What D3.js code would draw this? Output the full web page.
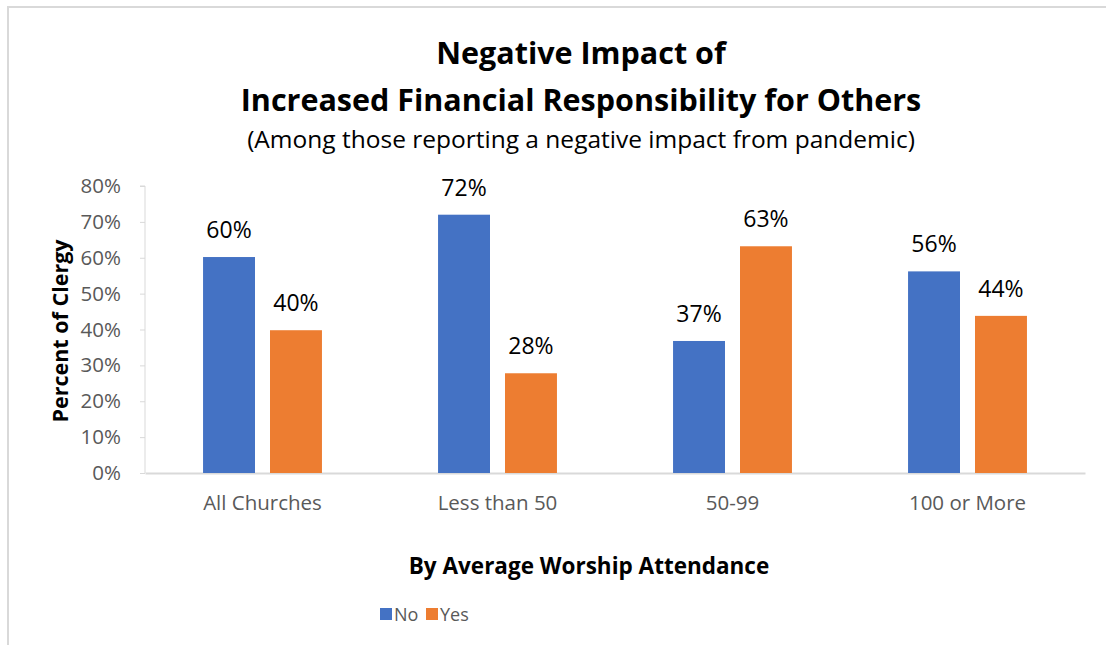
<!DOCTYPE html>
<html>
<head>
<meta charset="utf-8">
<script src="https://cdn.jsdelivr.net/npm/d3@7"></script>
<style>
  html, body { margin: 0; padding: 0; background: #fff; }
  svg { display: block; font-family: "Open Sans", sans-serif; }
</style>
</head>
<body>
<svg id="chart" width="1106" height="645"></svg>
<script>
const categories = ["All Churches", "Less than 50", "50-99", "100 or More"];
const seriesNames = ["No", "Yes"];
const noValues = [60.2, 72.0, 36.8, 56.2];
const yesValues = [39.8, 27.8, 63.2, 43.8];
const yTicks = [0, 10, 20, 30, 40, 50, 60, 70, 80];
const colors = ["#4472C4", "#ED7D31"];

const svg = d3.select("#chart");
const W = 1106, H = 645;

// chart frame
svg.append("path")
  .attr("d", `M8,${H} L8,7 L${W},7`)
  .attr("fill", "none").attr("stroke", "#d9d9d9").attr("stroke-width", 2);

const plot = { left: 145, right: 1085, top: 186, bottom: 473 };

const x = d3.scaleBand().domain(categories)
  .range([plot.left, plot.right]).paddingInner(0.494).paddingOuter(0.247);
const xs = d3.scaleBand().domain(seriesNames)
  .range([0, x.bandwidth()]).paddingInner(0.224).paddingOuter(0);
const y = d3.scaleLinear().domain([0, 80]).range([plot.bottom, plot.top]);

const data = categories.map((c, i) => ({ cat: c, vals: [noValues[i], yesValues[i]] }));

// y axis
const yAxis = svg.append("g").attr("transform", `translate(${plot.left},0)`)
  .call(d3.axisLeft(y).tickValues(yTicks).tickFormat(d => d + "%").tickSize(5).tickPadding(19));
yAxis.select(".domain").attr("stroke", "#d9d9d9").attr("d", `M-5,${plot.top}H0V${plot.bottom}`);
yAxis.selectAll(".tick line").attr("stroke", "#d9d9d9");
yAxis.selectAll(".tick text").attr("fill", "#595959").style("font-size", "20.5px")
  .style("font-family", "'Open Sans', sans-serif");

// x axis
const xAxis = svg.append("g").attr("transform", `translate(0,${plot.bottom})`)
  .call(d3.axisBottom(x).tickSize(0).tickPadding(22));
xAxis.select(".domain").attr("stroke", "#d9d9d9").attr("stroke-width", 2);
xAxis.selectAll(".tick text").attr("fill", "#595959").style("font-size", "20.5px")
  .style("font-family", "'Open Sans', sans-serif");

// bars
const groups = svg.selectAll(".grp").data(data).join("g")
  .attr("transform", d => `translate(${x(d.cat)},0)`);
groups.selectAll("rect").data(d => d.vals.map((v, j) => ({ s: seriesNames[j], v, j })))
  .join("rect")
  .attr("x", d => xs(d.s)).attr("width", xs.bandwidth())
  .attr("y", d => y(d.v)).attr("height", d => y(0) - y(d.v))
  .attr("fill", d => colors[d.j]);
groups.selectAll("text.lbl").data(d => d.vals.map((v, j) => ({ s: seriesNames[j], v, j })))
  .join("text").attr("class", "lbl")
  .attr("x", d => xs(d.s) + xs.bandwidth() / 2).attr("y", d => y(d.v) - 19)
  .attr("text-anchor", "middle").attr("fill", "#000").style("font-size", "23px")
  .text(d => Math.round(d.v) + "%");

// titles
svg.append("text").attr("x", 581).attr("y", 64).attr("text-anchor", "middle")
  .style("font-size", "30.5px").style("font-weight", "bold").attr("fill", "#000")
  .text("Negative Impact of");
svg.append("text").attr("x", 581).attr("y", 111).attr("text-anchor", "middle")
  .style("font-size", "30.5px").style("font-weight", "bold").attr("fill", "#000")
  .text("Increased Financial Responsibility for Others");
svg.append("text").attr("x", 581).attr("y", 148).attr("text-anchor", "middle")
  .style("font-size", "24.5px").attr("fill", "#000")
  .text("(Among those reporting a negative impact from pandemic)");

// axis titles
svg.append("text").attr("transform", "translate(68,331) rotate(-90)")
  .attr("text-anchor", "middle").style("font-size", "21.5px").style("font-weight", "bold")
  .attr("fill", "#000").text("Percent of Clergy");
svg.append("text").attr("x", 589).attr("y", 574).attr("text-anchor", "middle")
  .style("font-size", "22.5px").style("font-weight", "bold").attr("fill", "#000")
  .text("By Average Worship Attendance");

// legend
const legend = svg.append("g").attr("transform", "translate(380,614)");
const legX = [0, 46];
seriesNames.forEach((s, i) => {
  const g = legend.append("g").attr("transform", `translate(${legX[i]},0)`);
  g.append("rect").attr("x", 0).attr("y", -6).attr("width", 12).attr("height", 12).attr("fill", colors[i]);
  g.append("text").attr("x", 14).attr("y", 7).style("font-size", "18px").attr("fill", "#595959").text(s);
});
</script>
</body>
</html>
